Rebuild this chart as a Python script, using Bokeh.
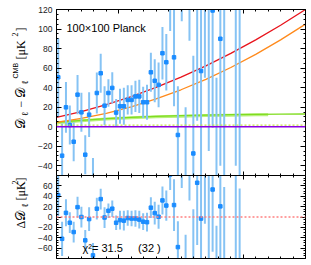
import math
from bokeh.plotting import figure
from bokeh.layouts import column, row
from bokeh.models import FixedTicker, LinearAxis, Label, Span, Range1d, ColumnDataSource
from bokeh.embed import file_html
from bokeh.resources import INLINE

# ---- data ----
ell = [14, 45, 76, 107, 138, 169, 200, 231, 262, 293, 324, 355, 386, 417, 448, 479,
       510, 541, 572, 603, 634, 665, 696, 727, 758, 789, 820, 851, 882, 913, 944, 975,
       1006, 1037, 1068, 1099, 1130, 1161, 1192, 1223, 1254, 1285, 1316, 1347, 1440, 1471]
dl = [50.6, -29.7, 19.8, 1.7, -15.4, 32.8, 14.7, -28.7, 12.3, -56, 34.5, 54.7, 21.5, 34.5, 39.7, 14.4,
      20.9, 20.9, 27.4, 27.4, 31, 31, 25, 25, 55.7, 47, 42.8, 75.2, 66, 128, 71, -8.5,
      140, -58, 150, -27.4, 126, 57, 150, 150, 119, -60, 90, -70, 190, -80]
err = [40, 33, 26, 20, 20, 20, 20, 20, 23, 24, 21, 20, 20, 14, 16, 14,
       18, 19, 15, 15, 16, 17, 16, 18, 20, 22, 23, 27, 29, 30, 50, 50,
       32, 78, 62, 100, 120, 110, 100, 175, 120, 110, 130, 200, 230, 220]
resid = [42, -42, 8, -11, -29, 19, 0, -45, -4, -74, 16, 34.5, -1, 12, 16, -11,
         -6, -7, -2, -3, -3, -5, -9, -10, 18, 7.5, 0.5, 32, 22, 82, 23, -58,
         88, -112, 94, -85, 66, -3, 87, 84, 53, -127, 20.5, -142, 103, -165]

model_ell = [0, 200, 400, 600, 800, 1000, 1200, 1400, 1600, 1800, 2000]
model_total = [9.5, 15.5, 22.6, 30.8, 40.2, 50.7, 62.3, 75.0, 88.9, 103.9, 120.0]
model_orange = [4.4, 8.4, 13.7, 20.4, 28.4, 37.8, 48.5, 60.6, 74.1, 88.9, 105.0]
model_green = [4.4, 6.5, 8.3, 9.6, 10.6, 11.3, 11.9, 12.3, 12.6, 12.8, 13.0]
band_ell = [0, 200, 400, 600, 800, 1000, 1200, 1400, 1600, 1700]
band_green = [4.0, 6.0, 7.8, 9.1, 10.1, 10.8, 11.4, 11.8, 12.1, 12.2]
dotted_level = 1.5

top_ticks = [-40, -20, 0, 20, 40, 60, 80, 100, 120]
bot_ticks = [-60, -40, -20, 0, 20, 40, 60]
x_major = [500, 1500]

src = ColumnDataSource(dict(
    ell=ell, dl=dl, lo=[v - e for v, e in zip(dl, err)], hi=[v + e for v, e in zip(dl, err)],
    r=resid, rlo=[v - e for v, e in zip(resid, err)], rhi=[v + e for v, e in zip(resid, err)]))

BAR = "#86c3f4"
PT = "#1a8cff"
LAB_W = 31
FRAME_L = 56


def lab(v):
    return ("\u2212" + str(abs(v))) if v < 0 else str(v)


def hide_labels(ax):
    ax.major_label_text_font_size = "1px"
    ax.major_label_text_color = None
    ax.major_label_standoff = 0


def add_axes(p, yticks, yminor, xminor):
    for side in ("left", "right"):
        ax = LinearAxis(ticker=FixedTicker(ticks=yticks, minor_ticks=yminor),
                        major_tick_in=5, major_tick_out=0, minor_tick_in=2, minor_tick_out=0,
                        axis_line_color="black", major_tick_line_color="black",
                        minor_tick_line_color="black")
        if side == "left":
            ax.major_label_text_font_size = "8.5px"
            ax.major_label_text_font = "Liberation Sans"
            ax.major_label_text_color = "#222222"
            ax.major_label_standoff = 4
            ax.major_label_overrides = {t: lab(t) for t in yticks}
        else:
            hide_labels(ax)
        p.add_layout(ax, side)
    for side in ("above", "below"):
        ax = LinearAxis(ticker=FixedTicker(ticks=x_major, minor_ticks=xminor),
                        major_tick_in=4, major_tick_out=0, minor_tick_in=2, minor_tick_out=0,
                        axis_line_color="black", major_tick_line_color="black",
                        minor_tick_line_color="black")
        hide_labels(ax)
        p.add_layout(ax, side)


xminor = list(range(0, 2001, 100))

# ---- label strip (rotated y-axis titles) ----
pl = figure(width=LAB_W, height=265, x_range=Range1d(0, LAB_W), y_range=Range1d(0, 265),
            output_backend="svg", toolbar_location=None, x_axis_location=None, y_axis_location=None,
            min_border_left=0, min_border_right=0, min_border_top=0, min_border_bottom=0)
pl.outline_line_color = None
pl.xgrid.visible = False
pl.ygrid.visible = False


def rot(text, xp, ystart, size, font="Liberation Serif"):
    pl.add_layout(Label(x=xp, y=265 - ystart, x_units="screen", y_units="screen",
                        text=text, angle=math.pi / 2, text_align="left", text_baseline="middle",
                        text_font_size=f"{size}px", text_font=font, text_color="black"))


rot("\U0001D49F", 20, 128.5, 13)
rot("\u2113", 24.5, 115.5, 9)
rot("\u2212", 20, 107, 12)
rot("\U0001D49F", 20, 97.5, 13)
rot("\u2113", 24.5, 84, 9)
rot("CMB", 14.5, 78, 7, font="Liberation Sans")
rot("[\u03bcK", 20, 59, 12)
rot("2", 14, 36, 8)
rot("]", 20, 31, 12)

rot("\u0394", 20, 228, 12)
rot("\U0001D49F", 20, 220, 13)
rot("\u2113", 24.5, 207, 9)
rot("[\u03bcK", 20, 200, 12)
rot("2", 14, 184, 8)
rot("]", 20, 181, 12)

# ---- top panel ----
p1 = figure(width=311 - LAB_W, height=175, x_range=Range1d(0, 2000), y_range=Range1d(-50, 120),
            output_backend="svg", toolbar_location=None, x_axis_location=None, y_axis_location=None,
            min_border_left=FRAME_L - LAB_W, min_border_right=6, min_border_top=9, min_border_bottom=0)
p1.outline_line_color = None
p1.xgrid.visible = False
p1.ygrid.visible = False
add_axes(p1, top_ticks, list(range(-50, 121, 5)), xminor)

p1.add_layout(Span(location=0, dimension="width", line_color="#8a00e6", line_width=1.5))
p1.add_layout(Span(location=dotted_level, dimension="width", line_color="#c5e04a",
                   line_width=1.2, line_dash="2 2"))
p1.line(band_ell, band_green, line_color="#b8f07c", line_width=3)
p1.line(model_ell, model_green, line_color="#7fdc1e", line_width=1.3)
p1.line(model_ell, model_orange, line_color="#ff8a1c", line_width=1.3)
p1.line(model_ell, model_total, line_color="#e8141c", line_width=1.3)
p1.segment(x0="ell", y0="lo", x1="ell", y1="hi", source=src, line_color=BAR, line_width=2)
p1.scatter(x="ell", y="dl", source=src, marker="square", size=3.5, fill_color=PT, line_color=PT)

p1.add_layout(Label(x=10, y=148, x_units="screen", y_units="screen", text="100\u00d7100 Planck",
                    text_font="Liberation Sans", text_font_size="11px", text_color="black",
                    text_baseline="alphabetic"))

# ---- bottom panel ----
p2 = figure(width=311 - LAB_W, height=90, x_range=p1.x_range, y_range=Range1d(-80, 80),
            output_backend="svg", toolbar_location=None, x_axis_location=None, y_axis_location=None,
            min_border_left=FRAME_L - LAB_W, min_border_right=6, min_border_top=0, min_border_bottom=7)
p2.outline_line_color = None
p2.xgrid.visible = False
p2.ygrid.visible = False
add_axes(p2, bot_ticks, list(range(-80, 81, 5)), xminor)

p2.add_layout(Span(location=0, dimension="width", line_color="#ff8080", line_width=1.5,
                   line_dash="2 2"))
p2.segment(x0="ell", y0="rlo", x1="ell", y1="rhi", source=src, line_color=BAR, line_width=2)
p2.scatter(x="ell", y="r", source=src, marker="square", size=3.5, fill_color=PT, line_color=PT)

p2.add_layout(Label(x=26, y=11, x_units="screen", y_units="screen",
                    text="\u03c7\u00b2= 31.5\u00a0\u00a0\u00a0\u00a0\u00a0(32 )",
                    text_font="Liberation Sans", text_font_size="11px", text_color="black",
                    text_baseline="middle"))

layout = row(pl, column(p1, p2, spacing=0), spacing=0)

open("out.html", "w").write(file_html(layout, INLINE))
